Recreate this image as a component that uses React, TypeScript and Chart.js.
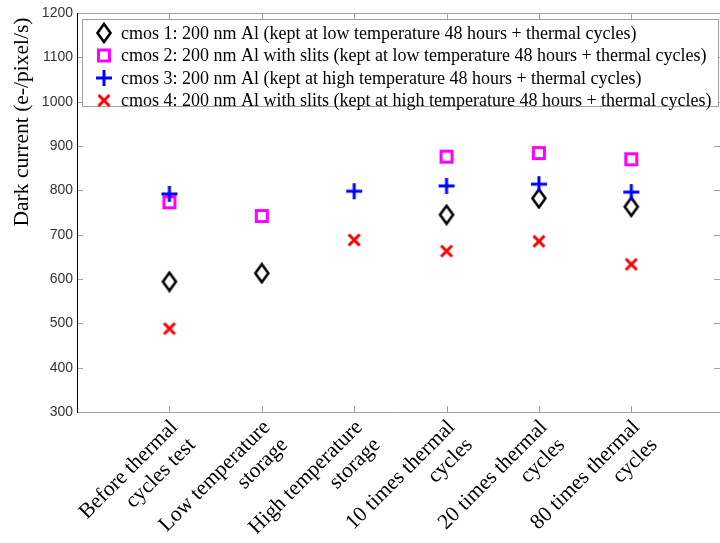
import React, { useEffect, useRef } from "react";
import { Chart, registerables } from "chart.js";

Chart.register(...registerables);

const categories: string[][] = [
  ["Before thermal", "cycles test"],
  ["Low temperature", "storage"],
  ["High temperature", "storage"],
  ["10 times thermal", "cycles"],
  ["20 times thermal", "cycles"],
  ["80 times thermal", "cycles"],
];
const cmos1: (number | null)[] = [594, 613, null, 745, 782, 763];
const cmos2: (number | null)[] = [773, 742, null, 876, 884, 870];
const cmos3: (number | null)[] = [792, null, 798, 810, 814, 796];
const cmos4: (number | null)[] = [488, null, 688, 663, 685, 633];
const seriesLabels = [
  "cmos 1: 200 nm Al (kept at low temperature 48 hours + thermal cycles)",
  "cmos 2: 200 nm Al with slits (kept at low temperature 48 hours + thermal cycles)",
  "cmos 3: 200 nm Al (kept at high temperature 48 hours + thermal cycles)",
  "cmos 4: 200 nm Al with slits (kept at high temperature 48 hours + thermal cycles)",
];
const yTicks = [300, 400, 500, 600, 700, 800, 900, 1000, 1100, 1200];
const yTitle = "Dark current (e-/pixel/s)";

function makeMarker(kind: string): HTMLCanvasElement {
  const c = document.createElement("canvas");
  const ctx = c.getContext("2d")!;
  if (kind === "diamond") {
    c.width = 18; c.height = 22;
    ctx.strokeStyle = "#000";
    ctx.lineWidth = 2.6;
    ctx.beginPath();
    ctx.moveTo(9, 2); ctx.lineTo(15.5, 11); ctx.lineTo(9, 20); ctx.lineTo(2.5, 11);
    ctx.closePath(); ctx.stroke();
  } else if (kind === "square") {
    c.width = 16; c.height = 16;
    ctx.strokeStyle = "#ff00ff";
    ctx.lineWidth = 3;
    ctx.strokeRect(2.5, 2.5, 11, 11);
  } else if (kind === "plus") {
    c.width = 18; c.height = 18;
    ctx.strokeStyle = "#0000ff";
    ctx.lineWidth = 3;
    ctx.beginPath();
    ctx.moveTo(1, 9); ctx.lineTo(17, 9);
    ctx.moveTo(9, 1); ctx.lineTo(9, 17);
    ctx.stroke();
  } else {
    c.width = 16; c.height = 16;
    ctx.strokeStyle = "#ff0000";
    ctx.lineWidth = 3;
    ctx.beginPath();
    ctx.moveTo(2.5, 2.5); ctx.lineTo(13.5, 13.5);
    ctx.moveTo(13.5, 2.5); ctx.lineTo(2.5, 13.5);
    ctx.stroke();
  }
  return c;
}

function toPoints(arr: (number | null)[]) {
  const out: { x: number; y: number }[] = [];
  arr.forEach((v, i) => {
    if (v !== null) out.push({ x: i + 1, y: v });
  });
  return out;
}

export default function App() {
  const ref = useRef<HTMLCanvasElement | null>(null);
  useEffect(() => {
    if (!ref.current) return;
    const markers = ["diamond", "square", "plus", "cross"].map(makeMarker);
    const series = [cmos1, cmos2, cmos3, cmos4];

    const framePlugin = {
      id: "frame",
      beforeDatasetsDraw(chart: any) {
        const { ctx, chartArea } = chart;
        const { left, right, top, bottom } = chartArea;
        const xs = chart.scales.x;
        const ys = chart.scales.y;
        ctx.save();
        ctx.strokeStyle = "#a0a0a0";
        ctx.lineWidth = 1;
        ctx.beginPath();
        ctx.moveTo(left, top + 0.5); ctx.lineTo(right, top + 0.5);
        ctx.moveTo(left, bottom + 0.5); ctx.lineTo(right, bottom + 0.5);
        ctx.stroke();
        ctx.beginPath();
        for (let i = 1; i <= 6; i++) {
          const px = Math.round(xs.getPixelForValue(i)) + 0.5;
          ctx.moveTo(px, bottom); ctx.lineTo(px, bottom - 6);
          ctx.moveTo(px, top); ctx.lineTo(px, top + 6);
        }
        yTicks.forEach((v) => {
          const py = Math.round(ys.getPixelForValue(v)) + 0.5;
          ctx.moveTo(left, py); ctx.lineTo(left + 6, py);
          ctx.moveTo(right, py); ctx.lineTo(right - 6, py);
        });
        ctx.stroke();
        ctx.strokeStyle = "#000";
        ctx.beginPath();
        ctx.moveTo(left + 0.5, top); ctx.lineTo(left + 0.5, bottom + 1);
        ctx.stroke();
        ctx.fillStyle = "#333";
        ctx.font = "14px 'Liberation Sans', Arial, sans-serif";
        ctx.textAlign = "right";
        ctx.textBaseline = "middle";
        yTicks.forEach((v) => {
          ctx.fillText(String(v), left - 4, ys.getPixelForValue(v));
        });
        ctx.save();
        ctx.translate(22, 122);
        ctx.rotate(-Math.PI / 2);
        ctx.fillStyle = "#000";
        ctx.font = "21.5px 'Liberation Serif', 'Times New Roman', serif";
        ctx.textAlign = "center";
        ctx.textBaseline = "middle";
        ctx.fillText(yTitle, 0, 0);
        ctx.restore();
        ctx.fillStyle = "#000";
        ctx.font = "21.5px 'Liberation Serif', 'Times New Roman', serif";
        ctx.textAlign = "right";
        ctx.textBaseline = "middle";
        const lh = 25;
        categories.forEach((lines, i) => {
          const px = xs.getPixelForValue(i + 1);
          ctx.save();
          ctx.translate(px + 14, bottom + 21);
          ctx.rotate(-Math.PI / 4);
          ctx.fillText(lines[0], 0, -lh / 2);
          ctx.fillText(lines[1], 0, lh / 2);
          ctx.restore();
        });
        ctx.restore();
      },
      afterDatasetsDraw(chart: any) {
        const { ctx } = chart;
        ctx.save();
        const bx = 82, by = 19, bw = 636, bh = 87;
        ctx.fillStyle = "#fff";
        ctx.fillRect(bx, by, bw, bh);
        ctx.strokeStyle = "#a0a0a0";
        ctx.lineWidth = 1;
        ctx.strokeRect(bx + 0.5, by + 0.5, bw, bh);
        ctx.fillStyle = "#000";
        ctx.font = "18px 'Liberation Serif', 'Times New Roman', serif";
        ctx.textAlign = "left";
        ctx.textBaseline = "middle";
        seriesLabels.forEach((lab, i) => {
          const cy = 33 + i * 22.5;
          const m = markers[i];
          ctx.drawImage(m, 104 - m.width / 2, cy - m.height / 2);
          ctx.fillText(lab, 121, cy + 1);
        });
        ctx.restore();
      },
    };

    const chart = new Chart(ref.current, {
      type: "scatter",
      data: {
        datasets: series.map((s, i) => ({
          label: seriesLabels[i],
          data: toPoints(s),
          pointStyle: markers[i] as any,
          showLine: false,
          order: 4 - i,
        })),
      },
      options: {
        responsive: false,
        animation: false,
        devicePixelRatio: 1,
        layout: { autoPadding: false, padding: { left: 77, top: 13, right: 0, bottom: 131 } },
        plugins: { legend: { display: false }, tooltip: { enabled: false } },
        scales: {
          x: { type: "linear", min: 0, max: 6.96, display: false },
          y: { type: "linear", min: 300, max: 1200, display: false },
        },
      },
      plugins: [framePlugin],
    });
    return () => chart.destroy();
  }, []);
  return (
    <div style={{ position: "fixed", left: 0, top: 0, width: 720, height: 543, background: "#fff" }}>
      <canvas ref={ref} width={720} height={543} style={{ display: "block" }} />
    </div>
  );
}
